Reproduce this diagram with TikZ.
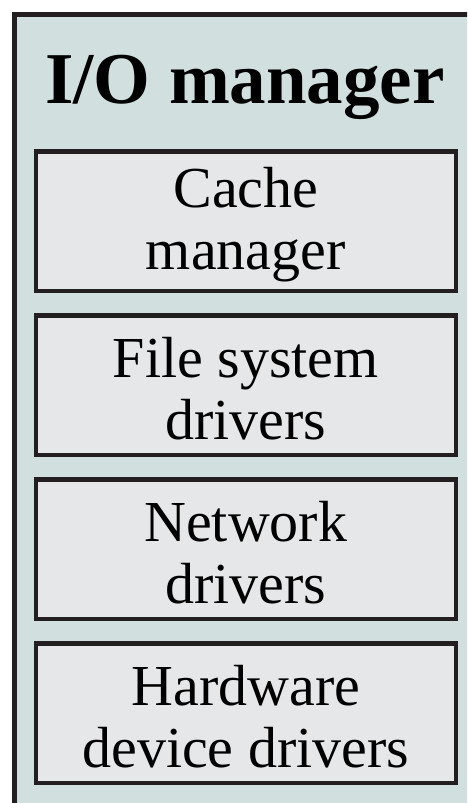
\documentclass[tikz,border=0pt]{standalone}
\usepackage{fontspec}
\setmainfont{Liberation Serif}
\usetikzlibrary{positioning}

\definecolor{mgrfill}{RGB}{210,223,223}
\definecolor{boxfill}{RGB}{230,231,233}
\definecolor{edge}{RGB}{35,31,32}
\newcommand{\capstrut}{\rule{0pt}{48pt}}

\begin{document}
\begin{tikzpicture}
  [x=1pt, y=1pt, node distance=20pt,
  mgrbox/.style={draw=edge,fill=mgrfill,line width=4.5pt,inner sep=0pt,minimum width=600pt,minimum height=900pt},
  layerbox/.style={draw=edge,fill=boxfill,line width=4.5pt,inner sep=0pt,minimum width=420pt,minimum height=139.5pt,align=center,font=\fontsize{58}{62}\selectfont},
  titletext/.style={inner sep=0pt,font=\fontsize{73}{80}\selectfont\bfseries}]
  \clip (0,0) rectangle (467,-803);
  \useasboundingbox (0,0) rectangle (467,-803);

  % outer frame, cut off at right and bottom
  \node[mgrbox,anchor=north west] (mgr) at (12,-12) {};
  \node[titletext,anchor=base] (title) at (245,-103) {I/O manager};

  \node[layerbox] (cache) at (245.8,-221.25) {\capstrut Cache\\manager};
  \node[layerbox,below=of cache] (fsd) {\capstrut File system\\drivers};
  \node[layerbox,below=of fsd] (net) {\capstrut Network\\drivers};
  \node[layerbox,below=of net] (hwd) {\capstrut Hardware\\device drivers};
\end{tikzpicture}
\end{document}
